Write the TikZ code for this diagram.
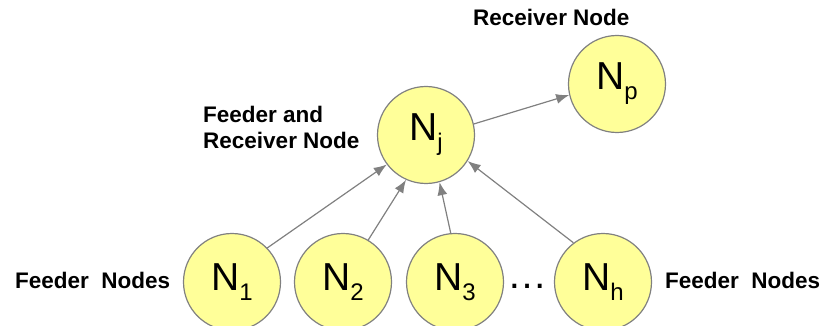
\documentclass[tikz,border=0pt]{standalone}
\usepackage{fontspec}
\setmainfont{Liberation Sans}
\usepackage{xcolor}
\usetikzlibrary{arrows.meta}

\definecolor{nodefill}{HTML}{FFFF99}
\definecolor{nodeline}{HTML}{808080}

\newcommand{\nsub}[1]{N\raisebox{-10pt}{\fontsize{24}{24}\selectfont #1}}

\tikzset{
  feeder/.style={circle, draw=nodeline, fill=nodefill, line width=1.2pt,
    minimum size=97pt, inner sep=0pt, font=\fontsize{39}{39}\selectfont},
  caption/.style={inner sep=0pt, font=\bfseries\fontsize{22.5}{26}\selectfont},
  link/.style={draw=nodeline, line width=1.2pt, -{Latex[length=13pt,width=10pt]}}
}

\begin{document}
\begin{tikzpicture}[x=1pt,y=-1pt]
\useasboundingbox (0,0) rectangle (833,326);

  \node[feeder]   (N1) at (232,282)   {\nsub{1}};
  \node[feeder]   (N2) at (343,282)   {\nsub{2}};
  \node[feeder]   (N3) at (455,282)   {\nsub{3}};
  \node[feeder]   (Nh) at (603,282)   {\nsub{h}};
  \node[feeder]   (Nj) at (426,135)   {\nsub{j}};
  \node[feeder]   (Np) at (617,84)    {\nsub{p}};

  \node[caption, anchor=base west] (lfeed) at (15,288)  {Feeder\ \ Nodes};
  \node[caption, anchor=base west] (rfeed) at (665,288) {Feeder\ \ Nodes};
  \node[caption, anchor=base west] (recv)  at (473,26)  {Receiver Node};
  \node[caption, anchor=north west, align=left] (both) at (203,106)
        {Feeder and\\Receiver Node};

  \node[inner sep=0pt, anchor=base, font=\fontsize{40}{40}\selectfont] (dots) at (527,288) {…};

  \draw[link] (N1.44)  -- (Nj.217);
  \draw[link] (N2.59)  -- (Nj.246);
  \draw[link] (N3.95)  -- (Nj.286);
  \draw[link] (Nh.127) -- (Nj.328);
  \draw[link] (Nj.13)  -- (Np.193);

\end{tikzpicture}
\end{document}
